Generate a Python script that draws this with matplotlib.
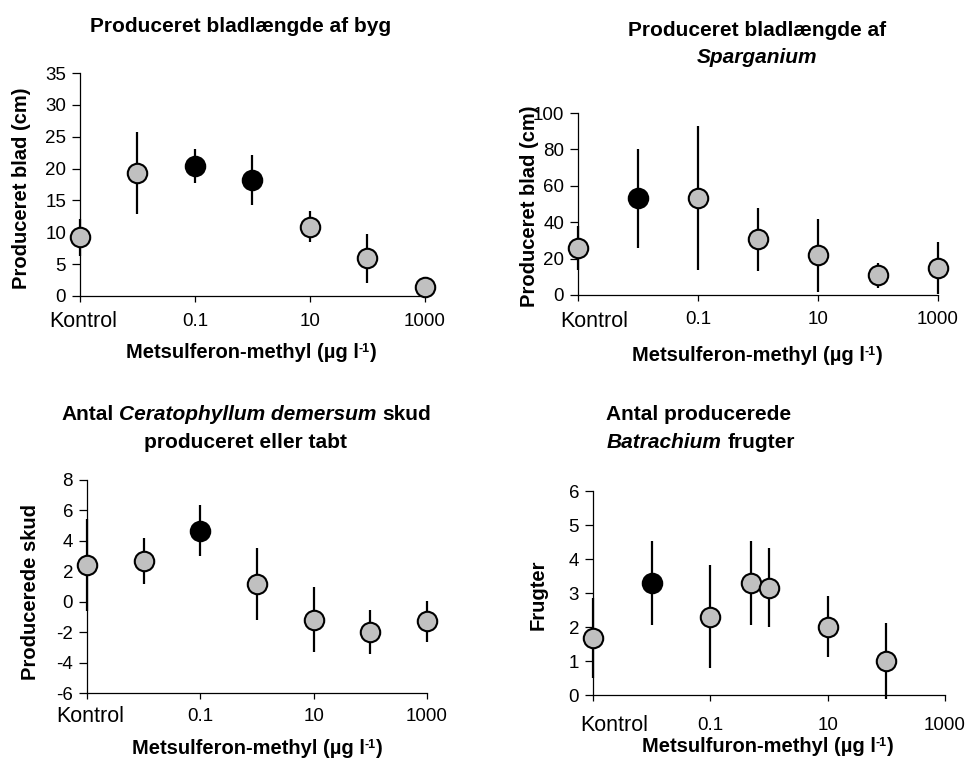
import matplotlib
matplotlib.use("Agg")
import matplotlib.pyplot as plt
from matplotlib.ticker import NullLocator

plt.rcParams['font.family'] = ['Liberation Sans', 'DejaVu Sans']

# ---- data -------------------------------------------------------------
tick_pos = [0.001, 0.1, 10, 1000]
tick_labels = ['Kontrol', '0.1', '10', '1000']

conc_std = [0.001, 0.01, 0.1, 1, 10, 100, 1000]      # 0.001 = Kontrol
conc_batr = [0.001, 0.01, 0.1, 0.5, 1, 10, 100]

byg_mean = [9.2, 19.3, 20.4, 18.2, 10.9, 5.9, 1.4]
byg_err = [2.9, 6.5, 2.7, 3.9, 2.4, 3.85, 0.4]
byg_sig = [False, False, True, True, False, False, False]

spar_mean = [25.6, 53.1, 53.1, 30.6, 21.8, 10.8, 14.8]
spar_err = [12.1, 27.2, 39.6, 17.4, 20.0, 6.8, 14.3]
spar_sig = [False, True, False, False, False, False, False]

cera_mean = [2.4, 2.69, 4.68, 1.18, -1.18, -1.99, -1.29]
cera_err = [3.02, 1.5, 1.7, 2.35, 2.15, 1.45, 1.35]
cera_sig = [False, False, True, False, False, False, False]

batr_mean = [1.67, 3.30, 2.30, 3.30, 3.16, 2.01, 1.0]
batr_err = [1.17, 1.23, 1.52, 1.23, 1.17, 0.9, 1.12]
batr_sig = [False, True, False, False, False, False, False]

# ---- figure -----------------------------------------------------------
W, H = 970, 760
fig = plt.figure(figsize=(W / 100, H / 100), dpi=100)
fig.patch.set_facecolor('white')

GREY = '#c0c0c0'
TICK_FS = 13.5
KONTROL_FS = 15.5


def px_axes(left, right, top, bottom):
    return fig.add_axes([left / W, 1 - bottom / H, (right - left) / W, (bottom - top) / H])


def ftext(x, y, s, **kw):
    return fig.text(x / W, 1 - y / H, s, **kw)


def panel(ax, x, mean, err, sig, ylim, yticks, xpad, kontrol_xy):
    ax.set_xscale('log')
    ax.set_xlim(0.001, 1000)
    ax.set_ylim(*ylim)
    ax.errorbar(x, mean, yerr=err, fmt='none', ecolor='black', elinewidth=1.6,
                capsize=0, clip_on=False, zorder=3)
    for xi, yi, s in zip(x, mean, sig):
        ax.plot([xi], [yi], 'o', ms=14, mfc='black' if s else GREY, mec='black',
                mew=1.5, clip_on=False, zorder=4)
    for side in ('top', 'right'):
        ax.spines[side].set_visible(False)
    for side in ('left', 'bottom'):
        ax.spines[side].set_linewidth(0.9)
    ax.set_xticks(tick_pos)
    # the control label is set as its own text, a little off its tick
    ax.set_xticklabels([''] + tick_labels[1:])
    ax.xaxis.set_minor_locator(NullLocator())
    ax.set_yticks(yticks)
    ax.set_yticklabels([str(v) for v in yticks])
    ax.tick_params(axis='y', direction='out', length=6, width=0.9, pad=4, labelsize=TICK_FS)
    ax.tick_params(axis='x', direction='out', length=4, width=0.9, pad=xpad, labelsize=TICK_FS)
    ax.patch.set_alpha(0)
    ftext(kontrol_xy[0], kontrol_xy[1], tick_labels[0], fontsize=KONTROL_FS,
          ha='center', va='baseline')


ax1 = px_axes(80, 425, 73, 296)
panel(ax1, conc_std, byg_mean, byg_err, byg_sig, (0, 35), list(range(0, 36, 5)), 8, (83, 327))

ax2 = px_axes(578, 938, 113, 295)
panel(ax2, conc_std, spar_mean, spar_err, spar_sig, (0, 100), list(range(0, 101, 20)), 7.5, (594, 327))

ax3 = px_axes(87, 427, 480, 693)
panel(ax3, conc_std, cera_mean, cera_err, cera_sig, (-6, 8), list(range(-6, 9, 2)), 7, (90, 722))

ax4 = px_axes(593, 945, 491, 695)
panel(ax4, conc_batr, batr_mean, batr_err, batr_sig, (0, 6), list(range(0, 7)), 11.5, (614, 731))


# ---- text -------------------------------------------------------------
def rich_line(parts, xc, y, gap=True):
    """Bold line made of (text, style, size, rise_px) pieces, centred at xc."""
    renderer = fig.canvas.get_renderer()
    texts, widths = [], []
    for s, style, size, rise in parts:
        t = ftext(0, y - rise, s, fontsize=size, fontweight='bold', fontstyle=style,
                  ha='left', va='baseline')
        texts.append(t)
        widths.append(t.get_window_extent(renderer).width)
    space = parts[0][2] * 100 / 72 * 0.278 if gap else 0.0
    total = sum(widths) + space * (len(parts) - 1)
    x = xc - total / 2
    for t, w in zip(texts, widths):
        t.set_x(x / W)
        x += w + space


TS = 15
rich_line([('Produceret bladlængde af byg', 'normal', TS, 0)], 241, 32)
rich_line([('Produceret bladlængde af', 'normal', TS, 0)], 757, 36)
rich_line([('Sparganium', 'italic', TS, 0)], 757, 63)
rich_line([('Antal', 'normal', TS, 0), ('Ceratophyllum demersum', 'italic', TS, 0),
           ('skud', 'normal', TS, 0)], 246, 420)
rich_line([('produceret eller tabt', 'normal', TS, 0)], 246, 448)
rich_line([('Antal producerede', 'normal', TS, 0)], 699, 420)
rich_line([('Batrachium', 'italic', TS, 0), ('frugter', 'normal', TS, 0)], 701, 448)

ylab_kw = dict(fontsize=14.5, fontweight='bold', rotation=90, ha='center', va='center')
ftext(22, 188, 'Produceret blad (cm)', **ylab_kw)
ftext(530, 206, 'Produceret blad (cm)', **ylab_kw)
ftext(31, 592, 'Producerede skud', **ylab_kw)
ftext(538, 595, 'Frugter', **ylab_kw)

XS = 14.5


def unit_label(name, xc, y):
    rich_line([(name + ' (µg l', 'normal', XS, 0), ('-1', 'normal', 9, 6),
               (')', 'normal', XS, 0)], xc, y, gap=False)


unit_label('Metsulferon-methyl', 251, 358)
unit_label('Metsulferon-methyl', 757, 361)
unit_label('Metsulferon-methyl', 257, 754)
unit_label('Metsulfuron-methyl', 768, 752)

fig.savefig('out.png', dpi=100, facecolor='white')
